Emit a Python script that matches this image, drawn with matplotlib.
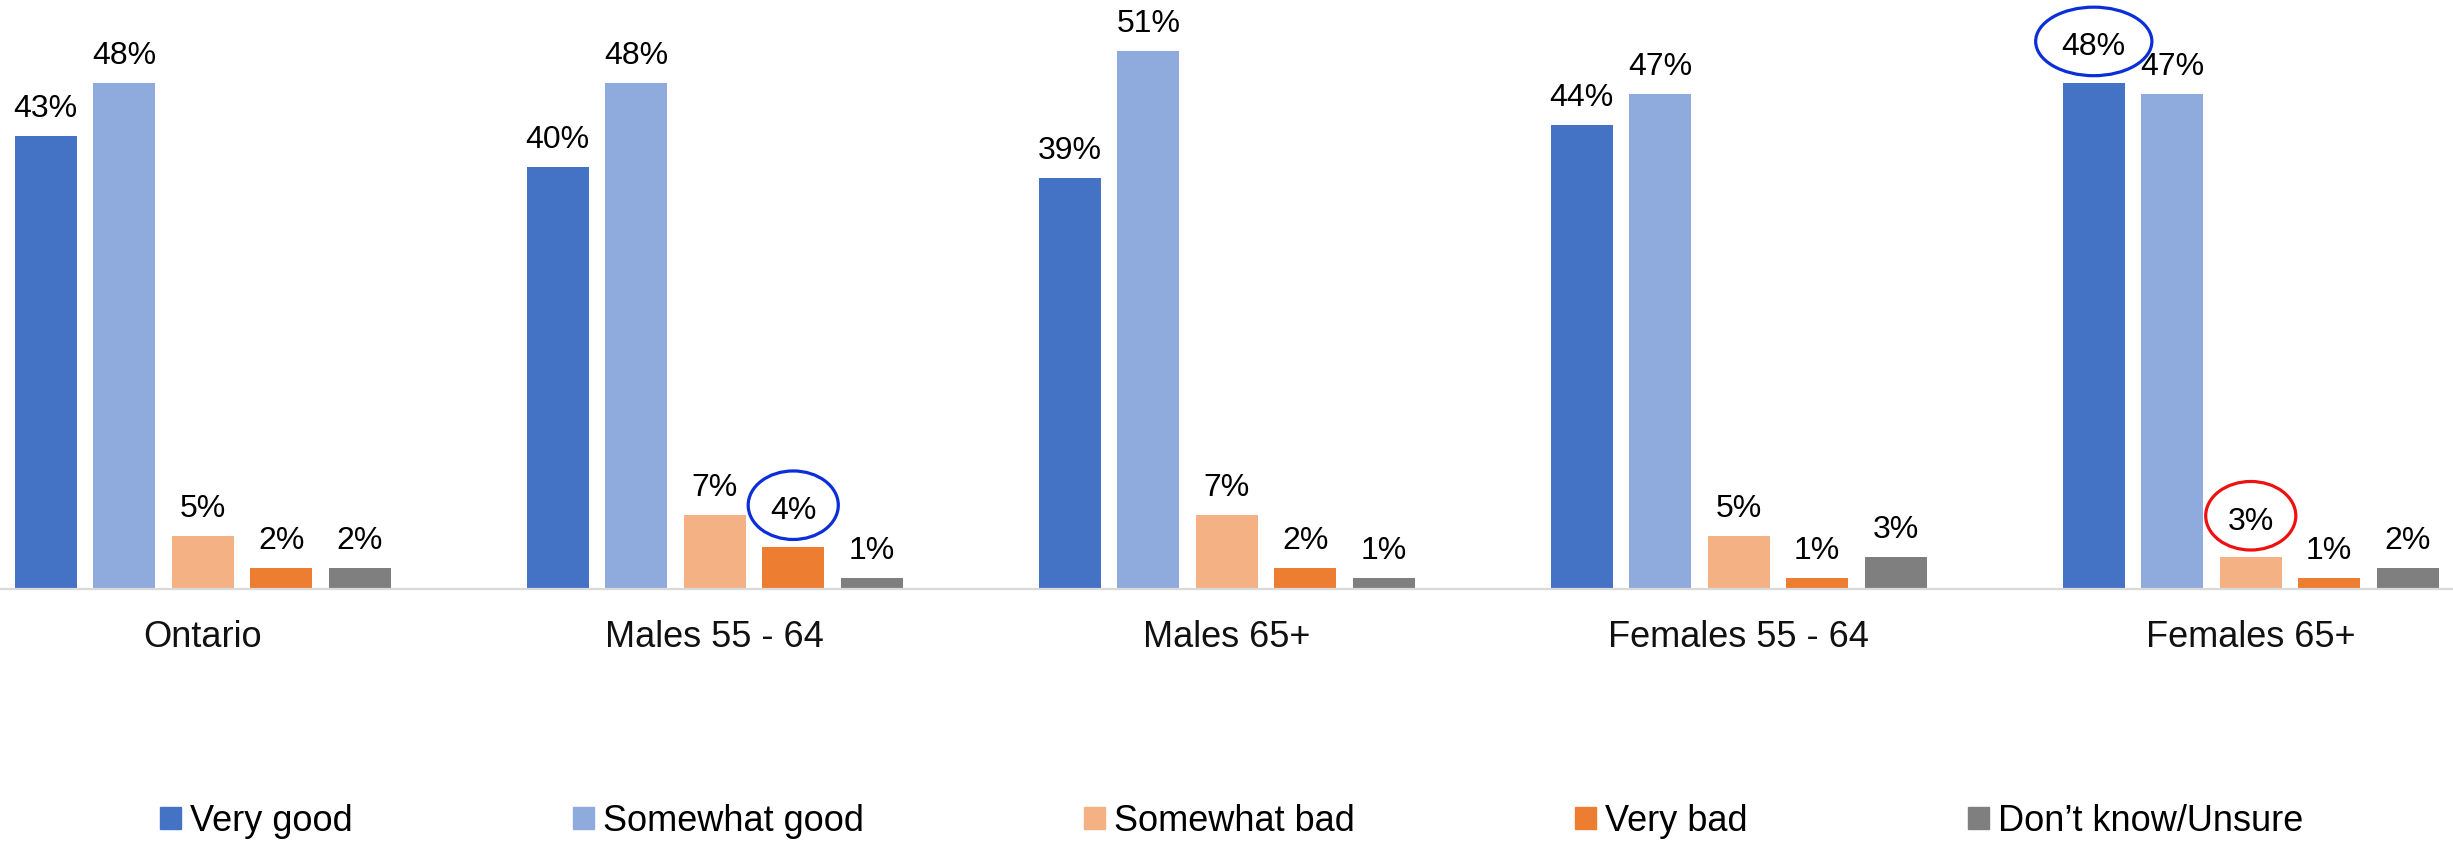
import numpy as np
import matplotlib
matplotlib.use("Agg")
import matplotlib.pyplot as plt
from matplotlib.patches import Rectangle, Ellipse

plt.rcParams['font.family'] = ['Liberation Sans', 'DejaVu Sans']

groups = ['Ontario', 'Males 55 - 64', 'Males 65+', 'Females 55 - 64', 'Females 65+']
responses = ['Very good', 'Somewhat good', 'Somewhat bad', 'Very bad', 'Don\u2019t know/Unsure']
very_good = [43, 40, 39, 44, 48]
somewhat_good = [48, 48, 51, 47, 47]
somewhat_bad = [5, 7, 7, 5, 3]
very_bad = [2, 4, 2, 1, 1]
dont_know = [2, 1, 1, 3, 2]
colors = ['#4472C4', '#8FAADC', '#F4B183', '#ED7D31', '#7F7F7F']

# highlighted labels: (group index, response index, ring colour)
highlights = [(1, 3, '#0a2fd8'), (4, 0, '#0a2fd8'), (4, 2, '#ee1111')]

series = [very_good, somewhat_good, somewhat_bad, very_bad, dont_know]

fig = plt.figure(figsize=(24.53, 8.43), dpi=100)
ax = fig.add_axes([0, 0.3013, 1, 0.6987])

x = np.arange(len(groups))
pitch = 0.1533
width = 0.121
for k, vals in enumerate(series):
    pos = x + (k - 2) * pitch
    ax.bar(pos, vals, width, color=colors[k], zorder=2)
    for i, v in enumerate(vals):
        hl = [h for h in highlights if h[0] == i and h[1] == k]
        dy = 20 if hl else 13.7
        ax.annotate(f'{v}%', (pos[i], v), xytext=(0, dy), textcoords='offset points',
                    ha='center', va='baseline', fontsize=23, color='black')
        if hl:
            w = 0.227 if v >= 10 else 0.176
            ax.add_patch(Ellipse((pos[i], v + 3.95), w, 6.5, fill=False,
                                 edgecolor=hl[0][2], lw=2.3, zorder=3))

ax.set_xlim(-0.396, 4.395)
ax.set_ylim(0, 55.88)
ax.set_yticks([])
ax.set_xticks(x)
ax.set_xticklabels(groups, fontsize=26, color='#111111')
ax.tick_params(axis='x', length=0, pad=22)
for s in ['top', 'left', 'right']:
    ax.spines[s].set_visible(False)
ax.spines['bottom'].set_color('#d9d9d9')
ax.spines['bottom'].set_linewidth(1.6)

handles = [Rectangle((0, 0), 1, 1, color=c) for c in colors]
fig.legend(handles, responses, loc='center', bbox_to_anchor=(0.502, 0.026),
           ncol=5, frameon=False, fontsize=26, handlelength=0.58, handleheight=0.58,
           handletextpad=0.25, columnspacing=6.1, borderpad=0)

fig.savefig('out.png', dpi=100)
